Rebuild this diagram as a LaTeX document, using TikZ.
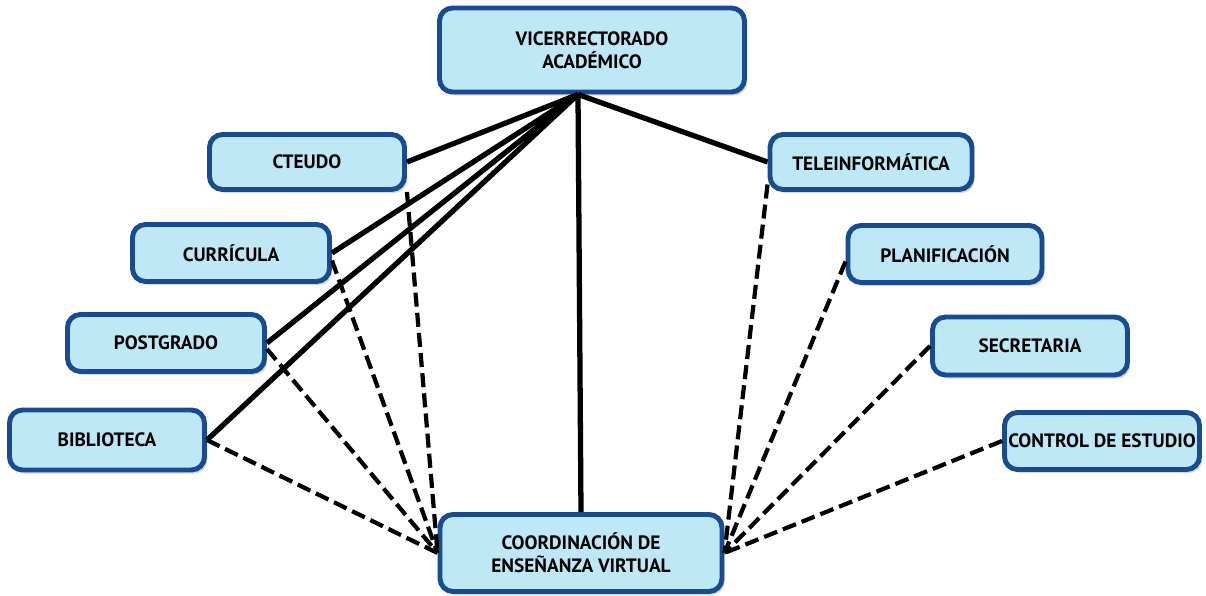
\documentclass[tikz,border=0pt]{standalone}
\usepackage{fontspec}
\setmainfont{PT Sans}
\usepackage{tikz}
\usetikzlibrary{shadows}
\definecolor{boxfill}{HTML}{BFE8F7}
\definecolor{boxline}{HTML}{174C92}

\begin{document}
\begin{tikzpicture}[
  unit/.style={shape=rectangle,rounded corners=0.26cm,draw=boxline,line width=2.8pt,
    fill=boxfill,font=\bfseries\fontsize{11}{13}\selectfont,align=center,inner sep=2pt,
    drop shadow={shadow xshift=1.5pt,shadow yshift=-2pt,opacity=0.3}},
  link/.style={line width=3pt},
  aux/.style={line width=2.4pt,dash pattern=on 8pt off 3.5pt}]
\useasboundingbox (0,0) rectangle (24.12,11.92);
\path
(11.84,10.92) node [unit,minimum width=6.1cm,minimum height=1.68cm](vice) {VICERRECTORADO\\ACADÉMICO}
(11.62,0.86) node [unit,minimum width=5.64cm,minimum height=1.54cm](coord) {COORDINACIÓN DE\\ENSEÑANZA VIRTUAL}
(6.14,8.68) node [unit,minimum width=3.9cm,minimum height=1.1cm](cteudo) {CTEUDO}
(4.62,6.86) node [unit,minimum width=3.94cm,minimum height=1.14cm](curr) {CURRÍCULA}
(3.32,5.06) node [unit,minimum width=3.94cm,minimum height=1.14cm](post) {POSTGRADO}
(2.14,3.12) node [unit,minimum width=3.9cm,minimum height=1.2cm](bibl) {BIBLIOTECA}
(17.42,8.68) node [unit,minimum width=4.04cm,minimum height=1.1cm](tele) {TELEINFORMÁTICA}
(18.9,6.84) node [unit,minimum width=3.88cm,minimum height=1.14cm](plan) {PLANIFICACIÓN}
(20.6,5.0) node [unit,minimum width=3.9cm,minimum height=1.16cm](secr) {SECRETARIA}
(22.04,3.1) node [unit,minimum width=3.9cm,minimum height=1.14cm](ctrl) {CONTROL DE ESTUDIO};
% solid links from the top unit
\draw [link]([xshift=-0.28cm]vice.south) --(cteudo.east);
\draw [link]([xshift=-0.28cm]vice.south) --(curr.east);
\draw [link]([xshift=-0.28cm]vice.south) --(post.east);
\draw [link]([xshift=-0.28cm]vice.south) --(bibl.east);
\draw [link]([xshift=-0.28cm]vice.south) --(tele.west);
\draw [link]([xshift=-0.28cm]vice.south) --(coord.north);
% dashed links to the bottom unit
\draw [aux](cteudo.south east) --(coord.west);
\draw [aux]([yshift=-0.15cm]curr.east) --(coord.west);
\draw [aux]([yshift=-0.12cm]post.east) --(coord.west);
\draw [aux](bibl.east) --(coord.west);
\draw [aux]([yshift=-0.45cm]tele.west) --(coord.east);
\draw [aux]([yshift=-0.15cm]plan.west) --(coord.east);
\draw [aux](secr.west) --(coord.east);
\draw [aux](ctrl.west) --(coord.east);

\end{tikzpicture}
\end{document}
